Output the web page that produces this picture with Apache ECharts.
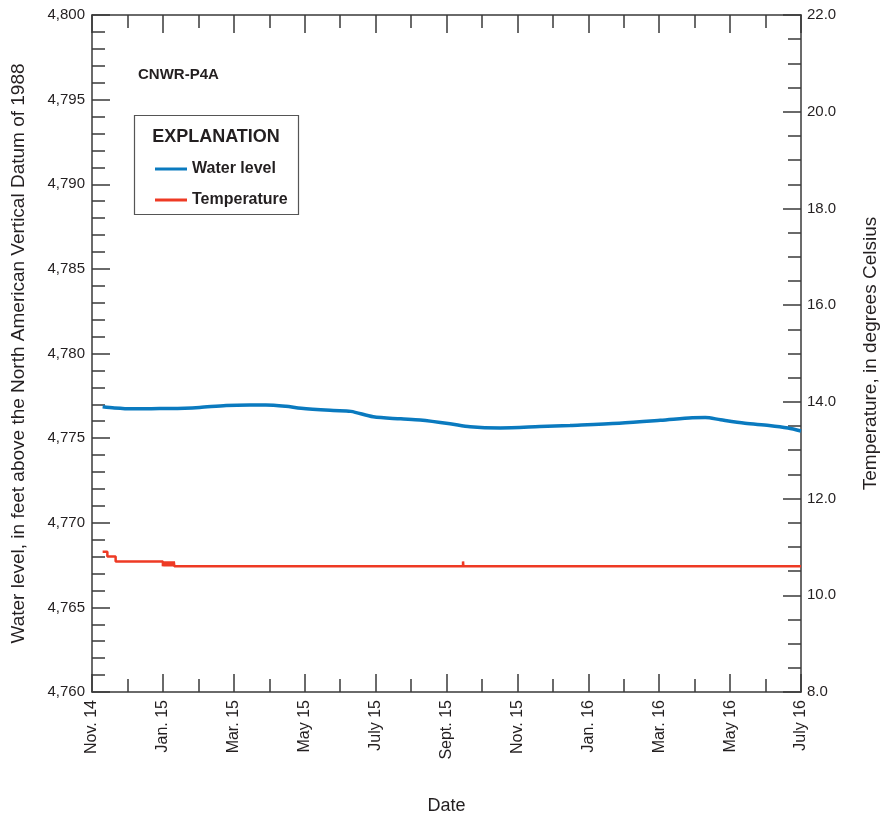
<!DOCTYPE html>
<html>
<head>
<meta charset="utf-8">
<script src="https://cdn.jsdelivr.net/npm/echarts@6/dist/echarts.min.js"></script>
<style>html,body{margin:0;padding:0;background:#fff}#c{width:880px;height:819px}</style>
</head>
<body>
<div id="c"></div>
<script>
// ---- data ----
var xTickLabels = ['Nov. 14','Jan. 15','Mar. 15','May 15','July 15','Sept. 15','Nov. 15','Jan. 16','Mar. 16','May 16','July 16'];
var waterDates = ['2014-11-10','2014-11-20','2014-12-05','2014-12-29','2015-01-20','2015-02-02','2015-02-23','2015-03-15','2015-03-29','2015-04-15','2015-04-28','2015-05-26','2015-06-10','2015-06-29','2015-07-23','2015-08-09','2015-09-04','2015-09-21','2015-10-17','2015-11-20','2015-12-16','2016-01-28','2016-03-02','2016-03-30','2016-04-10','2016-04-23','2016-05-14','2016-06-04','2016-06-20','2016-07-01'];
var waterLevel = [4776.85,4776.78,4776.73,4776.75,4776.77,4776.81,4776.93,4776.96,4776.96,4776.88,4776.76,4776.63,4776.58,4776.26,4776.14,4776.07,4775.85,4775.67,4775.60,4775.68,4775.75,4775.88,4776.05,4776.20,4776.22,4776.08,4775.88,4775.75,4775.60,4775.42];
var tempDates = ['2014-11-10T00','2014-11-14T00','2014-11-21T00','2015-01-01T00','2015-01-01T12','2015-01-02T00','2015-01-02T12','2015-01-03T00','2015-01-03T12','2015-01-04T00','2015-01-04T12','2015-01-05T00','2015-01-05T12','2015-01-06T00','2015-01-06T12','2015-01-07T00','2015-01-07T12','2015-01-08T00','2015-01-08T12','2015-01-09T00','2015-01-09T12','2015-01-10T00','2015-01-10T12','2015-01-11T00','2015-09-15T00','2015-09-15T06','2015-09-15T12','2016-07-01T00'];
var temperature = [10.9,10.8,10.7,10.6,10.7,10.6,10.7,10.6,10.7,10.6,10.7,10.6,10.7,10.6,10.7,10.6,10.7,10.6,10.7,10.6,10.7,10.6,10.7,10.6,10.7,10.6,10.6,10.6];

// convert a date string to fractional months since Nov. 1, 2014
function monthPos(s) {
  var y = +s.slice(0,4), m = +s.slice(5,7), d = +s.slice(8,10);
  var h = s.length > 10 ? +s.slice(11,13) : 0;
  var start = Date.UTC(y, m-1, 1), end = Date.UTC(y, m, 1);
  var t = Date.UTC(y, m-1, d, h);
  return (y-2014)*12 + (m-11) + (t-start)/(end-start);
}
var waterData = waterDates.map(function(d,i){return [monthPos(d), waterLevel[i]];});
var tempData = tempDates.map(function(d,i){return [monthPos(d), temperature[i]];});

var FONT = 'Liberation Sans, Arial, sans-serif';
var INK = '#231f20';
var axisLine = {show:true, onZero:false, lineStyle:{color:'#3a3a3a', width:1.5}};

var chart = echarts.init(document.getElementById('c'));
chart.setOption({
  animation:false,
  backgroundColor:'#fff',
  textStyle:{fontFamily:FONT},
  title:{text:'CNWR-P4A', left:133, top:62, textStyle:{fontFamily:FONT, fontSize:15, fontWeight:'bold', color:INK}},
  graphic:[
    {type:'rect', shape:{x:134.5, y:115.5, width:164, height:99}, style:{fill:'#fff', stroke:'#555', lineWidth:1.2}, z:5},
    {type:'text', x:216, y:137, style:{text:'EXPLANATION', font:'bold 18px '+FONT, fill:INK, textAlign:'center', textVerticalAlign:'middle'}, z:6}
  ],
  legend:{
    left:150, top:155, orient:'vertical', icon:'rect', itemWidth:32, itemHeight:3, itemGap:13,
    textStyle:{fontFamily:FONT, fontSize:16, fontWeight:'bold', color:INK, lineHeight:18},
    data:['Water level','Temperature'], z:7
  },
  grid:{left:92, right:79, top:15, bottom:127, containLabel:false, outerBoundsMode:'none'},
  xAxis:[{
    type:'value', min:0, max:20, interval:2,
    name:'Date', nameLocation:'middle', nameGap:105,
    nameTextStyle:{fontFamily:FONT, fontSize:18, color:INK},
    axisLine:axisLine,
    axisTick:{inside:true, length:18, lineStyle:{color:'#3a3a3a', width:1.5}},
    minorTick:{show:true, splitNumber:2, length:13, lineStyle:{color:'#3a3a3a', width:1.5}},
    splitLine:{show:false},
    axisLabel:{rotate:90, margin:8, fontFamily:FONT, fontSize:16, color:INK,
      formatter:function(v){return xTickLabels[Math.round(v/2)];}}
  },{
    type:'value', min:0, max:20, interval:2, position:'top',
    axisLine:axisLine,
    axisTick:{inside:true, length:18, lineStyle:{color:'#3a3a3a', width:1.5}},
    minorTick:{show:true, splitNumber:2, length:13, lineStyle:{color:'#3a3a3a', width:1.5}},
    splitLine:{show:false}, axisLabel:{show:false}
  }],
  yAxis:[{
    type:'value', min:4760, max:4800, interval:5,
    name:'Water level, in feet above the North American Vertical Datum of 1988',
    nameLocation:'middle', nameGap:64, nameRotate:90,
    nameTextStyle:{fontFamily:FONT, fontSize:19, color:INK},
    axisLine:axisLine,
    axisTick:{inside:true, length:18, lineStyle:{color:'#3a3a3a', width:1.5}},
    minorTick:{show:true, splitNumber:5, length:13, lineStyle:{color:'#3a3a3a', width:1.5}},
    splitLine:{show:false},
    axisLabel:{margin:7, fontFamily:FONT, fontSize:15, color:INK,
      formatter:function(v){return v.toLocaleString('en-US');}}
  },{
    type:'value', min:8, max:22, interval:2, position:'right',
    name:'Temperature, in degrees Celsius',
    nameLocation:'middle', nameGap:60, nameRotate:90,
    nameTextStyle:{fontFamily:FONT, fontSize:19, color:INK},
    axisLine:axisLine,
    axisTick:{inside:true, length:18, lineStyle:{color:'#3a3a3a', width:1.5}},
    minorTick:{show:true, splitNumber:4, length:13, lineStyle:{color:'#3a3a3a', width:1.5}},
    splitLine:{show:false},
    axisLabel:{margin:6, fontFamily:FONT, fontSize:15, color:INK,
      formatter:function(v){return v.toFixed(1);}}
  }],
  series:[{
    name:'Water level', type:'line', xAxisIndex:0, yAxisIndex:0, data:waterData,
    showSymbol:false, symbol:'none', smooth:0.3,
    lineStyle:{color:'#0a7abf', width:3.5}, itemStyle:{color:'#0a7abf'}, z:3
  },{
    name:'Temperature', type:'line', xAxisIndex:0, yAxisIndex:1, data:tempData,
    showSymbol:false, symbol:'none', step:'end',
    lineStyle:{color:'#ee3a24', width:2.5}, itemStyle:{color:'#ee3a24'}, z:3
  }]
});
</script>
</body>
</html>
